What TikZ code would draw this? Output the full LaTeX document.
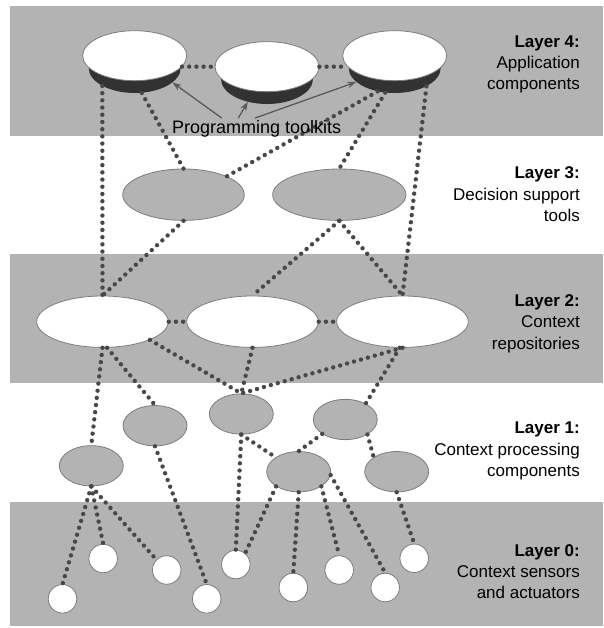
\documentclass[tikz,border=0pt]{standalone}
\usepackage{xcolor}
\usepackage{tikz}
\usepackage{fontspec}
\setmainfont{Liberation Sans}
\usetikzlibrary{shapes,arrows.meta,positioning}

\definecolor{bandgray}{RGB}{179,179,179}
\definecolor{rimgray}{RGB}{125,125,125}
\definecolor{dotgray}{RGB}{72,72,72}
\definecolor{basegray}{RGB}{50,50,50}
\definecolor{arrowgray}{RGB}{90,90,90}

\begin{document}
\begin{tikzpicture}[x=1pt, y=-1pt,
    band/.style={fill=bandgray, draw=none},
    app/.style={ellipse, draw=rimgray, line width=0.8pt, fill=white, minimum width=104pt, minimum height=50pt, inner sep=0pt},
    appbase/.style={ellipse, fill=basegray, minimum width=92pt, minimum height=50pt, inner sep=0pt},
    tool/.style={ellipse, draw=rimgray, line width=0.8pt, fill=bandgray, minimum height=51.4pt, inner sep=0pt},
    repo/.style={ellipse, draw=rimgray, line width=0.8pt, fill=white, minimum width=131.6pt, minimum height=51.4pt, inner sep=0pt},
    proc/.style={ellipse, draw=rimgray, line width=0.8pt, fill=bandgray, minimum width=64pt, minimum height=40.3pt, inner sep=0pt},
    sensor/.style={circle, draw=rimgray, line width=0.8pt, fill=white, minimum size=28.5pt, inner sep=0pt},
    link/.style={draw=dotgray, line width=4.4pt, line cap=round, dash pattern=on 0pt off 7.2pt},
    arrow/.style={-{Stealth[length=9pt, width=6.5pt]}, draw=arrowgray, line width=1.3pt},
    layer/.style={anchor=base east, align=right, inner sep=0pt, font=\fontsize{17}{21.4}\selectfont}
]
    \useasboundingbox (0,0) rectangle (603,628);

    % Bands
    \fill[band] (10,6) rectangle (603,136);
    \fill[band] (10,254) rectangle (603,383);
    \fill[band] (10,502) rectangle (603,626);

    % Layer 4
    \node[appbase] (l4a-base) at (134.7,68) {};
    \node[app] (l4a) at (134.7,55.7) {};
    \node[appbase] (l4b-base) at (267,79) {};
    \node[app] (l4b) at (267,66.7) {};
    \node[appbase] (l4c-base) at (394.7,68) {};
    \node[app] (l4c) at (394.7,55.7) {};

    % Layer 3
    \node[tool, minimum width=121.6pt] (l3a) at (183.5,194.7) {};
    \node[tool, minimum width=133.3pt] (l3b) at (339.3,194.7) {};

    % Layer 2
    \node[repo] (l2a) at (102.5,321.7) {};
    \node[repo] (l2b) at (252.5,321.7) {};
    \node[repo] (l2c) at (402.5,321.7) {};

    % Layer 1
    \node[proc] (l1a) at (91.3,465.8) {};
    \node[proc] (l1b) at (155,425.7) {};
    \node[proc] (l1c) at (241.3,414) {};
    \node[proc] (l1d) at (345.3,419.5) {};
    \node[proc] (l1e) at (298.7,471.7) {};
    \node[proc] (l1f) at (396.7,471.7) {};

    % Layer 0
    \node[sensor] (l0a) at (62.5,598.8) {};
    \node[sensor] (l0b) at (103.2,558.5) {};
    \node[sensor] (l0c) at (166.7,570) {};
    \node[sensor] (l0d) at (206.7,598.8) {};
    \node[sensor] (l0e) at (235.8,564.5) {};
    \node[sensor] (l0f) at (293.3,587.5) {};
    \node[sensor] (l0g) at (339.2,570) {};
    \node[sensor] (l0h) at (385.2,587.5) {};
    \node[sensor] (l0i) at (414.2,558.3) {};

    % Links
    \draw[link] (l4a.-13) -- (l4b.west);
    \draw[link] (l4b.east) -- (l4c.193);
    \draw[link] (l4a-base.209) -- (l2a);
    \draw[link] (l4a-base.-74) -- (l3a.north);
    \draw[link] (l4c-base.234) -- (l3a.23);
    \draw[link] (l4c-base.249) -- (l3b.north);
    \draw[link] (l4c-base.330) -- (l2c.north);
    \draw[link] (l3a.south) -- (l2a.north);
    \draw[link] (l3b.south) -- (l2b.north);
    \draw[link] (l3b.south) -- (l2c.north);
    \draw[link] (l2a.east) -- (l2b.west);
    \draw[link] (l2b.east) -- (l2c.west);
    \draw[link] (l2a.south) -- (l1a.north);
    \draw[link] (l2a.-80) -- (l1b.north);
    \draw[link] (l2a.-21) -- (l1c.north);
    \draw[link] (l2b.south) -- (l1c.north);
    \draw[link] (l2c.south) -- (l1c.north);
    \draw[link] (l2c.-96) -- (l1d.38);
    \draw[link] (l1c.south) -- (l1e.148);
    \draw[link] (l1d.212) -- (l1e.north);
    \draw[link] (l1d.326) -- (l1f.148);
    \draw[link] (l1a.south) -- (l0a.north);
    \draw[link] (l1a.south) -- (l0b.north);
    \draw[link] (l1a.south) -- (l0c.north west);
    \draw[link] (l1b.south) -- (l0d.north);
    \draw[link] (l1c.south) -- (l0e.north);
    \draw[link] (l1e.213) -- (l0e.50);
    \draw[link] (l1e.south) -- (l0f.north);
    \draw[link] (l1e.327) -- (l0g.north);
    \draw[link] (l1e.-6) -- (l0h.north);
    \draw[link] (l1f.south) -- (l0i.north);

    % Toolkits
    \node[anchor=base, inner sep=2pt, font=\fontsize{18}{21}\selectfont] (toolkits) at (256.7,133.3) {Programming toolkits};
    \draw[arrow] ([xshift=-35pt]toolkits.north) -- (l4a-base.-21);
    \draw[arrow] ([xshift=-18.4pt]toolkits.north) -- (l4b-base.230);
    \draw[arrow] ([xshift=-1.7pt]toolkits.north) -- (l4c-base.200);

    % Labels (anchored at the last line)
    \node[layer] (lab4) at (580,90) {\textbf{Layer 4:}\\Application\\components};
    \node[layer] (lab3) at (580,221.5) {\textbf{Layer 3:}\\Decision support\\tools};
    \node[layer] (lab2) at (580,349.3) {\textbf{Layer 2:}\\Context\\repositories};
    \node[layer] (lab1) at (580,476.7) {\textbf{Layer 1:}\\Context processing\\components};
    \node[layer] (lab0) at (580,598.8) {\textbf{Layer 0:}\\Context sensors\\and actuators};
\end{tikzpicture}
\end{document}
